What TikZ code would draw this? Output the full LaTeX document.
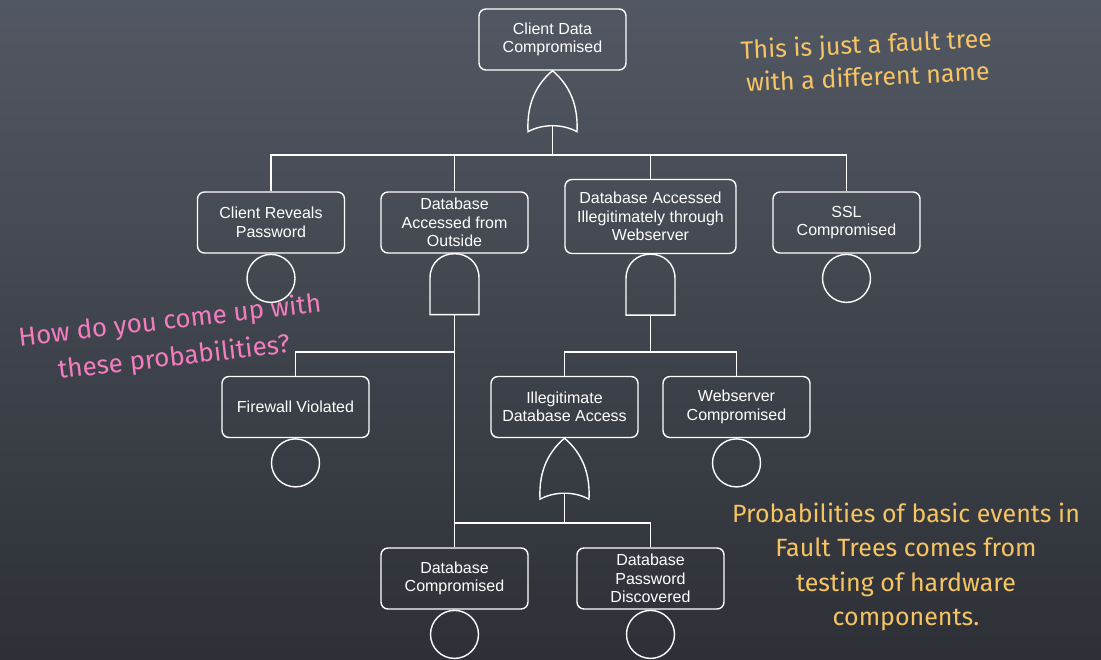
\documentclass[tikz,border=0pt]{standalone}
\usepackage{fontspec}
\setmainfont{Liberation Sans}
\newfontfamily\handfont{Fira Sans}
\definecolor{boardtop}{HTML}{525863}
\definecolor{boardbot}{HTML}{2D3036}
\definecolor{chalkyellow}{HTML}{F6C463}
\definecolor{chalkpink}{HTML}{F47DC0}
\begin{document}
\begin{tikzpicture}[x=1pt,y=-1pt,
  wire/.style={draw=white, line width=1.4pt},
  box/.style={draw=white, line width=1.4pt, rounded corners=7pt, align=center,
    text=white, font=\fontsize{16}{18.5}\selectfont, minimum width=147pt,
    minimum height=61pt, inner sep=2pt},
  event/.style={draw=white, line width=1.4pt, circle, minimum size=48pt, inner sep=0pt},
  hand/.style={font=\handfont\fontsize{25}{33}\selectfont, align=center, inner sep=0pt},
  orgate/.pic={
    \draw[wire] (-24.5,61) .. controls (-26,30) and (-14,12) .. (0,0)
      .. controls (14,12) and (26,30) .. (24.5,61)
      .. controls (10,53) and (-10,53) .. cycle;
    \coordinate (-out) at (0,55);
  },
  andgate/.pic={
    \draw[wire] (-24.5,61) -- (-24.5,24.5)
      .. controls (-24.5,-8.2) and (24.5,-8.2) .. (24.5,24.5) -- (24.5,61) -- cycle;
    \coordinate (-out) at (0,61);
  }]
\fill[top color=boardtop, bottom color=boardbot] (0,0) rectangle (1101,660);
\useasboundingbox (0,0) rectangle (1101,660);

% boxes
\node[box] (top) at (552.5,39.5) {Client Data\\Compromised};
\node[box] (crp) at (271,222.5) {Client Reveals\\Password};
\node[box] (dao) at (454.5,222.5) {Database\\Accessed from\\Outside};
\node[box, minimum width=171pt, minimum height=74pt] (dai) at (650.5,216.5) {Database Accessed\\Illegitimately through\\Webserver};
\node[box] (ssl) at (846.5,222.5) {SSL\\Compromised};
\node[box] (fw) at (295.5,407) {Firewall Violated};
\node[box] (ida) at (564.5,407) {Illegitimate\\Database Access};
\node[box] (wc) at (736.5,407) {Webserver\\Compromised};
\node[box] (dc) at (454.5,578.5) {Database\\Compromised};
\node[box] (dpd) at (650.5,578.5) {Database\\Password\\Discovered};

% basic events
\node[event, anchor=north] (ecrp) at (crp.south) {};
\node[event, anchor=north] (essl) at (ssl.south) {};
\node[event, anchor=north] (efw) at (fw.south) {};
\node[event, anchor=north] (ewc) at (wc.south) {};
\node[event, anchor=north] (edc) at (dc.south) {};
\node[event, anchor=north] (edpd) at (dpd.south) {};

% gates
\pic (g1) at (top.south) {orgate};
\pic (g2) at (dao.south) {andgate};
\pic (g3) at (dai.south) {andgate};
\pic (g4) at (ida.south) {orgate};

% junctions
\coordinate (b1) at (552.5,155);
\coordinate (j2) at (454.5,352);
\coordinate (j3) at (650.5,352);
\coordinate (j4) at (564.5,523);

% connectors
\draw[wire] (g1-out) -- (b1);
\draw[wire] (crp.north) |- (b1) -| (ssl.north);
\draw[wire] (dao.north) -- (dao.north |- b1);
\draw[wire] (dai.north) -- (dai.north |- b1);
\draw[wire] (g2-out) -- (dc.north);
\draw[wire] (fw.north) |- (j2);
\draw[wire] (g3-out) -- (j3);
\draw[wire] (ida.north) |- (j3) -| (wc.north);
\draw[wire] (g4-out) -- (j4);
\draw[wire] (dc.north |- j4) -| (dpd.north);

% annotations
\node[hand, text=chalkyellow, rotate=2.7] (n1) at (867,60) {This is just a fault tree\\with a different name};
\node[hand, text=chalkpink, rotate=6.5, font=\handfont\fontsize{26}{37}\selectfont] (n2) at (172,340) {How do you come up with\\these probabilities?};
\node[hand, text=chalkyellow, font=\handfont\fontsize{25}{34.5}\selectfont] (n3) at (906,567) {Probabilities of basic events in\\Fault Trees comes from\\testing of hardware\\components.};
\end{tikzpicture}
\end{document}
